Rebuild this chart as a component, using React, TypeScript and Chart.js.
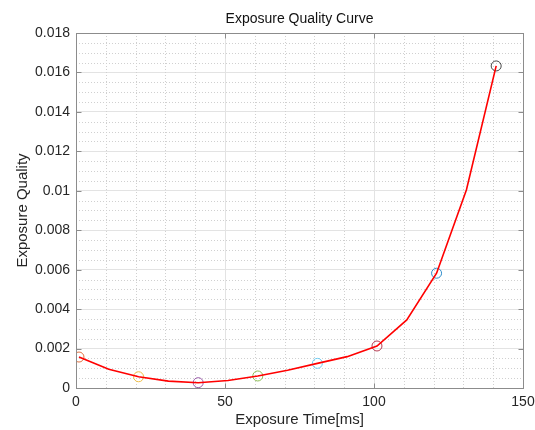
import React, { useEffect, useRef } from "react";
import { Chart, registerables } from "chart.js";

Chart.register(...registerables);

const lineX = [1, 11, 21, 31, 41, 51, 61, 71, 81, 91, 101, 111, 121, 131, 141];
const lineY = [0.00157, 0.00095, 0.00057, 0.00035, 0.00027, 0.00038, 0.00061, 0.0009, 0.00125, 0.00159, 0.00213, 0.00345, 0.00582, 0.01004, 0.01633];
const markerX = [1, 21, 41, 61, 81, 101, 121, 141];
const markerY = [0.00157, 0.00057, 0.00027, 0.00061, 0.00125, 0.00213, 0.00582, 0.01633];
const markerColors = ["#E0703F", "#F0BE45", "#9A5BAA", "#8DBE55", "#6FCBF1", "#B53A50", "#2E8CCB", "#444444"];

const titleText = "Exposure Quality Curve";
const xTitle = "Exposure Time[ms]";
const yTitle = "Exposure Quality";
const xMin = 0, xMax = 150, xMajor = 50, xMinor = 10;
const yMin = 0, yMax = 0.018, yMajor = 0.002, yMinor = 0.0005;

const FONT = "'Liberation Sans', Arial, sans-serif";
const TEXT = "#262626";

const isMajor = (v: number, step: number) => Math.abs(v / step - Math.round(v / step)) < 1e-6;

const framePlugin = {
  id: "frame",
  beforeDatasetsDraw(chart: any) {
    const { ctx, chartArea: a, scales } = chart;
    const xs = scales.x, ys = scales.y;
    ctx.save();
    ctx.strokeStyle = "#d0d0d0";
    ctx.lineWidth = 1;
    ctx.setLineDash([1, 2]);
    for (let v = xMin; v <= xMax + 1e-9; v += xMinor) {
      if (isMajor(v, xMajor)) continue;
      const p = Math.round(xs.getPixelForValue(v)) + 0.5;
      ctx.beginPath(); ctx.moveTo(p, a.top); ctx.lineTo(p, a.bottom); ctx.stroke();
    }
    for (let i = 0; i <= Math.round((yMax - yMin) / yMinor); i++) {
      const v = yMin + i * yMinor;
      if (isMajor(v, yMajor)) continue;
      const p = Math.round(ys.getPixelForValue(v)) + 0.5;
      ctx.beginPath(); ctx.moveTo(a.left, p); ctx.lineTo(a.right, p); ctx.stroke();
    }
    ctx.restore();
  },
  afterDatasetsDraw(chart: any) {
    const { ctx, chartArea: a, scales } = chart;
    const xs = scales.x, ys = scales.y;
    ctx.save();
    ctx.strokeStyle = "#8c8c8c";
    ctx.lineWidth = 1;
    ctx.setLineDash([]);
    const L = Math.round(a.left) + 0.5, R = Math.round(a.right) + 0.5;
    const T = Math.round(a.top) + 0.5, B = Math.round(a.bottom) + 0.5;
    ctx.strokeRect(L, T, R - L, B - T);
    const tl = 5;
    for (let v = xMin; v <= xMax + 1e-9; v += xMajor) {
      const p = Math.round(xs.getPixelForValue(v)) + 0.5;
      ctx.beginPath(); ctx.moveTo(p, B); ctx.lineTo(p, B - tl); ctx.stroke();
      ctx.beginPath(); ctx.moveTo(p, T); ctx.lineTo(p, T + tl); ctx.stroke();
    }
    for (let i = 0; i <= Math.round((yMax - yMin) / yMajor); i++) {
      const v = yMin + i * yMajor;
      const p = Math.round(ys.getPixelForValue(v)) + 0.5;
      ctx.beginPath(); ctx.moveTo(L, p); ctx.lineTo(L + tl, p); ctx.stroke();
      ctx.beginPath(); ctx.moveTo(R, p); ctx.lineTo(R - tl, p); ctx.stroke();
    }
    ctx.fillStyle = "#111111";
    ctx.font = `14px ${FONT}`;
    ctx.textAlign = "center";
    ctx.textBaseline = "middle";
    ctx.fillText(titleText, (a.left + a.right) / 2, 19);
    ctx.restore();
  },
};

export default function App() {
  const ref = useRef<HTMLCanvasElement | null>(null);
  useEffect(() => {
    if (!ref.current) return;
    const chart = new Chart(ref.current, {
      type: "scatter",
      data: {
        datasets: [
          {
            type: "line",
            data: lineX.map((x, i) => ({ x, y: lineY[i] })),
            borderColor: "#ff0000",
            borderWidth: 1.6,
            pointRadius: 0,
            showLine: true,
            fill: false,
            tension: 0,
            order: 0,
          } as any,
          {
            type: "scatter",
            data: markerX.map((x, i) => ({ x, y: markerY[i] })),
            pointRadius: 5,
            pointBorderWidth: 1,
            pointBorderColor: markerColors,
            pointBackgroundColor: "rgba(0,0,0,0)",
            borderColor: markerColors,
            backgroundColor: "rgba(0,0,0,0)",
            showLine: false,
            order: 1,
          } as any,
        ],
      },
      options: {
        animation: false,
        responsive: false,
        maintainAspectRatio: false,
        layout: { padding: { left: 0, right: 12, top: 33, bottom: 0 } },
        plugins: { legend: { display: false }, tooltip: { enabled: false }, title: { display: false } },
        scales: {
          x: {
            type: "linear",
            min: xMin,
            max: xMax,
            afterFit: (s: any) => { s.height = 42; s.paddingLeft = 0; s.paddingRight = 0; },
            ticks: {
              stepSize: xMinor,
              autoSkip: false,
              maxRotation: 0,
              padding: 6,
              color: TEXT,
              font: { family: FONT, size: 14 },
              callback: (v: any) => (isMajor(Number(v), xMajor) ? String(Number(v)) : ""),
            },
            grid: {
              drawTicks: false,
              color: (c: any) => (c.tick && isMajor(c.tick.value, xMajor) ? "#e3e3e3" : "rgba(0,0,0,0)"),
              lineWidth: 1,
            },
            border: { display: false },
            title: { display: true, text: xTitle, color: TEXT, font: { family: FONT, size: 15 }, padding: { top: 0, bottom: 1 } },
          },
          y: {
            type: "linear",
            min: yMin,
            max: yMax,
            afterFit: (s: any) => { s.width = 76; s.paddingTop = 0; s.paddingBottom = 0; },
            ticks: {
              stepSize: yMinor,
              autoSkip: false,
              padding: 6,
              color: TEXT,
              font: { family: FONT, size: 14 },
              callback: (v: any) => {
                const n = Number(v);
                return isMajor(n, yMajor) ? String(parseFloat(n.toFixed(4))) : "";
              },
            },
            grid: {
              drawTicks: false,
              color: (c: any) => (c.tick && isMajor(c.tick.value, yMajor) ? "#e3e3e3" : "rgba(0,0,0,0)"),
              lineWidth: 1,
            },
            border: { display: false },
            title: { display: true, text: yTitle, color: TEXT, font: { family: FONT, size: 15 }, padding: { top: 14, bottom: 0 } },
          },
        },
      },
      plugins: [framePlugin],
    });
    return () => chart.destroy();
  }, []);
  return (
    <div style={{ position: "fixed", left: 0, top: 0, width: 535, height: 430, background: "#fff" }}>
      <canvas ref={ref} width={535} height={430} style={{ width: 535, height: 430 }} />
    </div>
  );
}
